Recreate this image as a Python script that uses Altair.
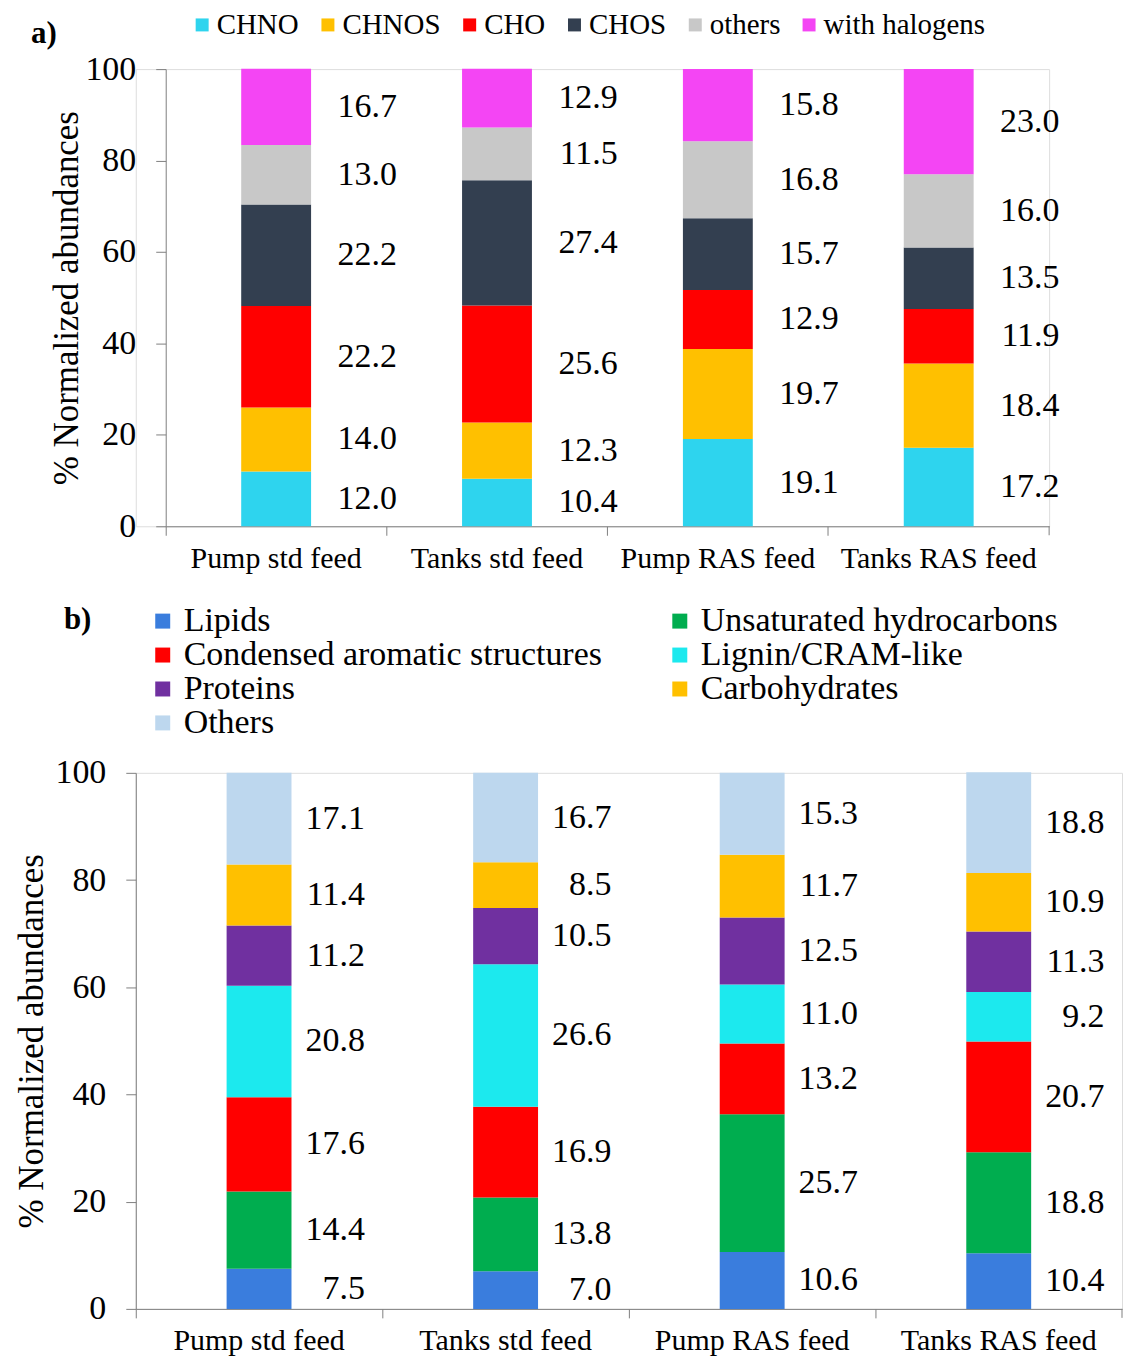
import altair as alt
import pandas as pd

FONT = "Liberation Serif"
GRAY = "#7f7f7f"

samples = ["Pump std feed", "Tanks std feed", "Pump RAS feed", "Tanks RAS feed"]

# ---- panel a: molecular formula classes ----
a_classes = ["CHNO", "CHNOS", "CHO", "CHOS", "others", "with halogens"]
a_colors = ["#2ED4EE", "#FFC000", "#FF0000", "#333F50", "#C8C8C8", "#F445F4"]
chno = [12.0, 10.4, 19.1, 17.2]
chnos = [14.0, 12.3, 19.7, 18.4]
cho = [22.2, 25.6, 12.9, 11.9]
chos = [22.2, 27.4, 15.7, 13.5]
others_a = [13.0, 11.5, 16.8, 16.0]
halogens = [16.7, 12.9, 15.8, 23.0]

# ---- panel b: compound classes ----
b_classes = ["Lipids", "Unsaturated hydrocarbons", "Condensed aromatic structures",
             "Lignin/CRAM-like", "Proteins", "Carbohydrates", "Others"]
b_colors = ["#3A7DDD", "#00AD4F", "#FF0000", "#1CE9EE", "#7030A0", "#FFC000", "#BDD7EE"]
lipids = [7.5, 7.0, 10.6, 10.4]
unsat_hc = [14.4, 13.8, 25.7, 18.8]
condensed = [17.6, 16.9, 13.2, 20.7]
lignin = [20.8, 26.6, 11.0, 9.2]
proteins = [11.2, 10.5, 12.5, 11.3]
carbs = [11.4, 8.5, 11.7, 10.9]
others_b = [17.1, 16.7, 15.3, 18.8]


def long_table(classes, series):
    rows = []
    for k, (c, vals) in enumerate(zip(classes, series)):
        for s, v in zip(samples, vals):
            rows.append({"sample": s, "cls": c, "order": k, "value": v})
    return pd.DataFrame(rows)


df_a = long_table(a_classes, [chno, chnos, cho, chos, others_a, halogens])
df_b = long_table(b_classes, [lipids, unsat_hc, condensed, lignin, proteins, carbs, others_b])


def panel(df, classes, colors, W, H, x0, bar_w, label_dx, legend, tag, tag_x, tag_y,
          edge_x, title_pad):
    base = alt.Chart(df).transform_stack(
        stack="value", groupby=["sample"],
        sort=[alt.SortField("order", order="ascending")], as_=["y0", "y1"]
    ).transform_calculate(mid="(datum.y0 + datum.y1) / 2")

    xaxis = alt.Axis(title=None, labelAngle=0, bandPosition=0,
                     tickSize=9, labelPadding=8, labelFont=FONT, labelFontSize=30,
                     labelColor="black", labelLimit=500, domainColor=GRAY, tickColor=GRAY,
                     grid=False)
    yaxis = alt.Axis(values=[0, 20, 40, 60, 80, 100], title="% Normalized  abundances",
                     titleFont=FONT, titleFontSize=35, titleFontWeight="normal",
                     titleColor="black", titlePadding=title_pad, tickSize=10, labelPadding=20,
                     labelFont=FONT, labelFontSize=34, labelColor="black",
                     domainColor=GRAY, tickColor=GRAY, grid=False, offset=-x0)
    xscale = alt.Scale(paddingInner=0, paddingOuter=0, range=[x0, W])
    yscale = alt.Scale(domain=[0, 100], nice=False)

    bars = base.mark_bar(width=bar_w).encode(
        x=alt.X("sample:N", sort=samples, scale=xscale, axis=xaxis),
        y=alt.Y("y0:Q", scale=yscale, axis=yaxis),
        y2="y1:Q",
        color=alt.Color("cls:N", scale=alt.Scale(domain=classes, range=colors), legend=legend),
        order=alt.Order("order:Q"),
    )
    texts = base.mark_text(align="right", baseline="middle", dx=label_dx, font=FONT,
                           fontSize=34, color="black").encode(
        x=alt.X("sample:N", sort=samples, scale=xscale, axis=xaxis),
        y=alt.Y("mid:Q", scale=yscale, axis=yaxis),
        text=alt.Text("value:Q", format=".1f"),
    )
    one = pd.DataFrame({"t": [tag]})
    tag_mark = alt.Chart(one).mark_text(align="left", baseline="middle", font=FONT,
                                        fontSize=31, fontWeight="bold", color="black").encode(
        x=alt.value(tag_x), y=alt.value(tag_y), text="t:N")
    end_tick = alt.Chart(one).mark_rule(color=GRAY).encode(
        x=alt.value(W), y=alt.value(H), y2=alt.value(H + 9))
    edge = alt.Chart(one).mark_rule(opacity=0).encode(
        x=alt.value(edge_x), x2=alt.value(edge_x + 1), y=alt.value(H / 2))
    return alt.layer(bars, texts, tag_mark, end_tick, edge).properties(width=W, height=H)


legend_a = alt.Legend(orient="none", legendX=52, legendY=-59, direction="horizontal",
                      title=None, symbolType="square", symbolSize=169, symbolStrokeWidth=0,
                      labelFont=FONT, labelFontSize=29, labelColor="black", labelOffset=0,
                      columnPadding=14, labelLimit=400)
legend_b = alt.Legend(orient="none", legendX=10, legendY=-169, columns=2,
                      direction="horizontal",
                      title=None, symbolType="square", symbolSize=225, symbolStrokeWidth=0,
                      labelFont=FONT, labelFontSize=34, labelColor="black", labelOffset=4,
                      columnPadding=60, rowPadding=0, labelLimit=700)

# panel a plot area starts 30 px to the right of panel b's
pa = panel(df_a, a_classes, a_colors, 915, 458, 30, 70, 121, legend_a, "a)", -105, -35,
           -127, 0)
pb = panel(df_b, b_classes, b_colors, 988, 537, 0, 65, 106, legend_b, "b)", -72, -153,
           -127, 5)

chart = alt.vconcat(pa, pb, spacing=29).resolve_scale(color="independent").configure_view(
    stroke=None).configure(background="white", padding=0)

chart.save("out.html", embed_options={"renderer": "svg", "actions": False})
